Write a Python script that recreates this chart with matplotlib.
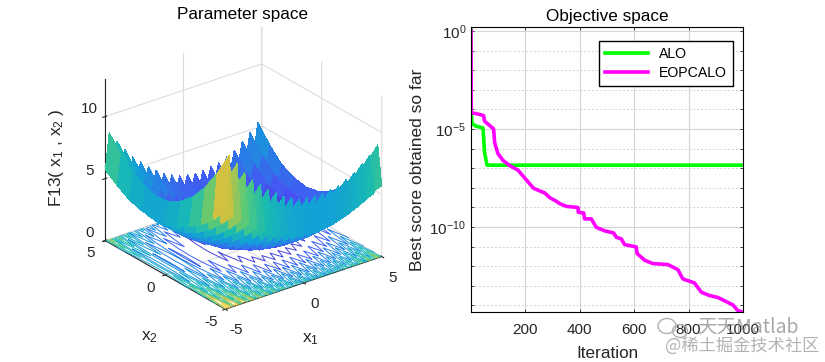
"""
Two panel optimiser figure: F13 surface on the left, convergence curves on the right.
"""

import matplotlib
matplotlib.use('Agg')
import matplotlib.pyplot as plt
import numpy as np
from matplotlib.colors import LinearSegmentedColormap, Normalize
from matplotlib.patches import Ellipse

plt.rcParams['font.family'] = ['Liberation Sans', 'DejaVu Sans']
plt.rcParams['mathtext.fontset'] = 'custom'
plt.rcParams['mathtext.rm'] = 'Liberation Sans'
plt.rcParams['mathtext.default'] = 'regular'
plt.rcParams['axes.unicode_minus'] = False
plt.rcParams['grid.color'] = '#dcdcdc'
plt.rcParams['grid.linewidth'] = 0.8

# surface heights: one line per x1, one column per x2
x1_values = [-5 + 0.25 * k for k in range(41)]
x2_values = [-5, -4, -3, -2, -1, 0, 1, 2, 3, 4, 5]
surface_z = [
    [7.9, 6.7, 5.7, 5.0, 4.4, 4.1, 4.0, 4.1, 4.4, 5.0, 5.7],
    [12.3, 10.3, 8.6, 7.3, 6.4, 5.8, 5.6, 5.8, 6.4, 7.3, 8.6],
    [7.3, 6.1, 5.1, 4.3, 3.8, 3.4, 3.3, 3.4, 3.8, 4.3, 5.1],
    [11.4, 9.3, 7.7, 6.4, 5.4, 4.9, 4.7, 4.9, 5.4, 6.4, 7.7],
    [6.7, 5.5, 4.5, 3.7, 3.2, 2.9, 2.8, 2.9, 3.2, 3.7, 4.5],
    [10.5, 8.5, 6.8, 5.5, 4.6, 4.0, 3.8, 4.0, 4.6, 5.5, 6.8],
    [6.2, 5.0, 4.0, 3.2, 2.7, 2.3, 2.2, 2.3, 2.7, 3.2, 4.0],
    [9.7, 7.7, 6.0, 4.8, 3.8, 3.3, 3.1, 3.3, 3.8, 4.8, 6.0],
    [5.7, 4.5, 3.5, 2.8, 2.2, 1.9, 1.8, 1.9, 2.2, 2.8, 3.5],
    [9.1, 7.0, 5.4, 4.1, 3.1, 2.6, 2.4, 2.6, 3.1, 4.1, 5.4],
    [5.3, 4.1, 3.1, 2.3, 1.8, 1.5, 1.4, 1.5, 1.8, 2.3, 3.1],
    [8.5, 6.4, 4.8, 3.5, 2.5, 2.0, 1.8, 2.0, 2.5, 3.5, 4.8],
    [5.0, 3.7, 2.8, 2.0, 1.4, 1.1, 1.0, 1.1, 1.4, 2.0, 2.8],
    [8.0, 5.9, 4.3, 3.0, 2.0, 1.5, 1.3, 1.5, 2.0, 3.0, 4.3],
    [4.7, 3.4, 2.5, 1.7, 1.1, 0.8, 0.7, 0.8, 1.1, 1.7, 2.5],
    [7.5, 5.5, 3.8, 2.5, 1.6, 1.1, 0.9, 1.1, 1.6, 2.5, 3.8],
    [4.4, 3.2, 2.2, 1.4, 0.9, 0.6, 0.4, 0.6, 0.9, 1.4, 2.2],
    [7.2, 5.2, 3.5, 2.2, 1.3, 0.7, 0.5, 0.7, 1.3, 2.2, 3.5],
    [4.2, 3.0, 2.0, 1.2, 0.7, 0.4, 0.3, 0.4, 0.7, 1.2, 2.0],
    [6.9, 4.9, 3.2, 1.9, 1.0, 0.5, 0.3, 0.5, 1.0, 1.9, 3.2],
    [4.1, 2.9, 1.9, 1.1, 0.6, 0.2, 0.1, 0.2, 0.6, 1.1, 1.9],
    [6.8, 4.7, 3.1, 1.8, 0.8, 0.3, 0.1, 0.3, 0.8, 1.8, 3.1],
    [4.0, 2.8, 1.8, 1.0, 0.5, 0.1, 0.0, 0.1, 0.5, 1.0, 1.8],
    [6.7, 4.7, 3.0, 1.7, 0.8, 0.2, 0.0, 0.2, 0.8, 1.7, 3.0],
    [4.0, 2.8, 1.8, 1.0, 0.4, 0.1, 0.0, 0.1, 0.4, 1.0, 1.8],
    [6.7, 4.7, 3.0, 1.7, 0.8, 0.2, 0.0, 0.2, 0.8, 1.7, 3.0],
    [4.0, 2.8, 1.8, 1.0, 0.5, 0.1, 0.0, 0.1, 0.5, 1.0, 1.8],
    [6.8, 4.7, 3.1, 1.8, 0.8, 0.3, 0.1, 0.3, 0.8, 1.8, 3.1],
    [4.1, 2.9, 1.9, 1.1, 0.6, 0.2, 0.1, 0.2, 0.6, 1.1, 1.9],
    [6.9, 4.9, 3.2, 1.9, 1.0, 0.5, 0.3, 0.5, 1.0, 1.9, 3.2],
    [4.2, 3.0, 2.0, 1.2, 0.7, 0.4, 0.3, 0.4, 0.7, 1.2, 2.0],
    [7.2, 5.2, 3.5, 2.2, 1.3, 0.7, 0.5, 0.7, 1.3, 2.2, 3.5],
    [4.4, 3.2, 2.2, 1.4, 0.9, 0.6, 0.4, 0.6, 0.9, 1.4, 2.2],
    [7.5, 5.5, 3.8, 2.5, 1.6, 1.1, 0.9, 1.1, 1.6, 2.5, 3.8],
    [4.7, 3.4, 2.5, 1.7, 1.1, 0.8, 0.7, 0.8, 1.1, 1.7, 2.5],
    [8.0, 5.9, 4.3, 3.0, 2.0, 1.5, 1.3, 1.5, 2.0, 3.0, 4.3],
    [5.0, 3.7, 2.8, 2.0, 1.4, 1.1, 1.0, 1.1, 1.4, 2.0, 2.8],
    [8.5, 6.4, 4.8, 3.5, 2.5, 2.0, 1.8, 2.0, 2.5, 3.5, 4.8],
    [5.3, 4.1, 3.1, 2.3, 1.8, 1.5, 1.4, 1.5, 1.8, 2.3, 3.1],
    [9.1, 7.0, 5.4, 4.1, 3.1, 2.6, 2.4, 2.6, 3.1, 4.1, 5.4],
    [5.7, 4.5, 3.5, 2.8, 2.2, 1.9, 1.8, 1.9, 2.2, 2.8, 3.5],
]
contour_levels = [1, 2, 3, 4, 5, 6, 7, 8, 9, 11]

# convergence curves, score given as log10
alo_iter = [1, 2, 5, 20, 45, 51, 60, 1000]
alo_log = [0.2, -4.18, -4.73, -4.86, -4.95, -6.22, -6.85, -6.85]
eop_iter = [1, 2, 21, 47, 51, 70, 84, 88, 100, 118, 143, 174, 198, 231, 272, 290,
            314, 327, 351, 394, 395, 415, 418, 443, 461, 492, 525, 535, 553, 565,
            608, 611, 639, 669, 724, 761, 779, 822, 847, 877, 908, 963, 981, 1000]
eop_log = [0.0, -4.18, -4.22, -4.32, -4.61, -4.83, -5.0, -5.71, -6.26, -6.6, -6.87,
           -7.11, -7.5, -8.03, -8.27, -8.5, -8.69, -8.81, -8.95, -9.01, -9.25, -9.29,
           -9.59, -9.59, -10.02, -10.2, -10.31, -10.53, -10.61, -10.9, -11.02, -11.36,
           -11.7, -11.87, -11.92, -12.18, -12.65, -12.86, -13.33, -13.5, -13.6, -13.98,
           -14.27, -14.35]

parula = LinearSegmentedColormap.from_list('parula', [
    (0.2422, 0.1504, 0.6603), (0.2810, 0.3228, 0.9579), (0.1540, 0.5000, 0.9000),
    (0.0700, 0.6300, 0.8400), (0.1000, 0.7300, 0.7000), (0.3300, 0.7900, 0.4800),
    (0.7800, 0.7600, 0.2600), (0.9900, 0.7400, 0.2400), (0.9800, 0.9800, 0.0800),
])

fig = plt.figure(figsize=(8.25, 3.62), dpi=100)

# left panel
ax3 = fig.add_axes([-0.011, 0.002, 0.6, 1.04], projection='3d', computed_zorder=False)
ax3.set_proj_type('ortho')
ax3.view_init(elev=26, azim=-127.5)
ax3.set_box_aspect((1, 1, 0.91), zoom=0.855)
X2, X1 = np.meshgrid(x2_values, x1_values)
Z = np.array(surface_z)
norm = Normalize(0, 12)
ax3.contour(X1, X2, Z, levels=contour_levels, zdir='z', offset=0, cmap=parula, norm=norm,
            linewidths=0.7, zorder=1)
ax3.plot_surface(X1, X2, Z, cmap=parula, norm=norm, rstride=1, cstride=1, linewidth=0,
                 antialiased=False, shade=False, zorder=2)
ax3.set_xlim(-5, 5, view_margin=0)
ax3.set_ylim(-5, 5, view_margin=0)
ax3.set_zlim(0, 13, view_margin=0)
ax3.set_xticks([-5, 0, 5])
ax3.set_yticks([-5, 0, 5])
ax3.set_zticks([0, 5, 10])
for axis in (ax3.xaxis, ax3.yaxis, ax3.zaxis):
    axis.set_pane_color((1, 1, 1, 0))
    axis.pane.set_edgecolor('none')
    axis.line.set_color('#262626')
    axis.line.set_linewidth(0.8)
    axis.set_rotate_label(False)
ax3.tick_params(labelsize=11, colors='#262626', pad=0)
ax3.tick_params(axis='x', pad=5)
ax3.tick_params(axis='y', pad=5)
for lbl in ax3.xaxis.get_ticklabels():
    lbl.set_va('center')
for lbl in ax3.yaxis.get_ticklabels():
    lbl.set_va('bottom')
for lbl in ax3.zaxis.get_ticklabels():
    lbl.set_va('bottom')
ax3.set_zlabel('F13( x$_1$ , x$_2$ )', fontsize=12.5, color='#262626', rotation=90)
fig.text(311 / 825, 1 - 339 / 362, 'x$_1$', fontsize=12.5, color='#262626', ha='center', va='center')
fig.text(149 / 825, 1 - 337 / 362, 'x$_2$', fontsize=12.5, color='#262626', ha='center', va='center')
fig.text(243 / 825, 1 - 14 / 362, 'Parameter space', ha='center', va='center', fontsize=12.3)

# right panel
ax = fig.add_axes([471 / 825, 1 - 312 / 362, 272 / 825, 285 / 362])
ax.plot(alo_iter, 10.0 ** np.array(alo_log), color='#00ff00', lw=2.6, label='ALO')
ax.plot(eop_iter, 10.0 ** np.array(eop_log), color='#ff00ff', lw=2.6, label='EOPCALO')
ax.set_yscale('log')
ax.set_xlim(1, 1000)
ax.set_ylim(10.0 ** -14.34, 10.0 ** 0.2)
ax.set_xticks([200, 400, 600, 800, 1000])
ax.set_yticks([1e0, 1e-5, 1e-10])
ax.set_yticklabels(['$10^{0}$', '$10^{-5}$', '$10^{-10}$'])
ax.set_yticks([10.0 ** -k for k in range(1, 15) if k % 5], minor=True)
ax.yaxis.set_tick_params(which='minor', labelleft=False)
ax.grid(True, which='major', color='#d4d4d4', lw=0.8)
ax.grid(True, which='minor', axis='y', color='#d4d4d4', lw=0.7, ls=(0, (2, 2)))
ax.tick_params(which='both', direction='in', top=True, right=True, labelsize=11,
               colors='#262626', length=2.5, width=0.6)
ax.tick_params(axis='x', pad=8)
ax.set_axisbelow(True)
ax.set_title('Objective space', fontsize=12.3, pad=4)
ax.set_xlabel('Iteration', fontsize=12.3, color='#262626', labelpad=6.5)
ax.set_ylabel('Best score obtained so far', fontsize=12.5, color='#262626')
ax.yaxis.set_label_coords(-0.17, 0.5)
ax.legend(loc='upper left', bbox_to_anchor=(599 / 825, 1 - 41 / 362),
          bbox_transform=fig.transFigure, fancybox=False, framealpha=1, edgecolor='black',
          fontsize=10.2, borderaxespad=0, handlelength=3.05, labelspacing=0.4)

# watermark
wm = ['Noto Sans CJK SC', 'DejaVu Sans']
fig.add_artist(Ellipse((667 / 825, 1 - 326 / 362), 18 / 825, 15 / 362, fill=False, ec='#b0b0b0', lw=1))
fig.add_artist(Ellipse((680 / 825, 1 - 331 / 362), 15 / 825, 13 / 362, fill=False, ec='#b0b0b0', lw=1))
fig.text(697 / 825, 1 - 327 / 362, '天天Matlab', family=wm, fontsize=14, color='#8c8c8c',
         alpha=0.75, va='center')
fig.text(665 / 825, 1 - 346 / 362, '@稀土掘金技术社区', family=wm, fontsize=12.4, color='#a6a6a6',
         alpha=0.85, va='center')

fig.savefig('out.png', dpi=100)
plt.close(fig)
